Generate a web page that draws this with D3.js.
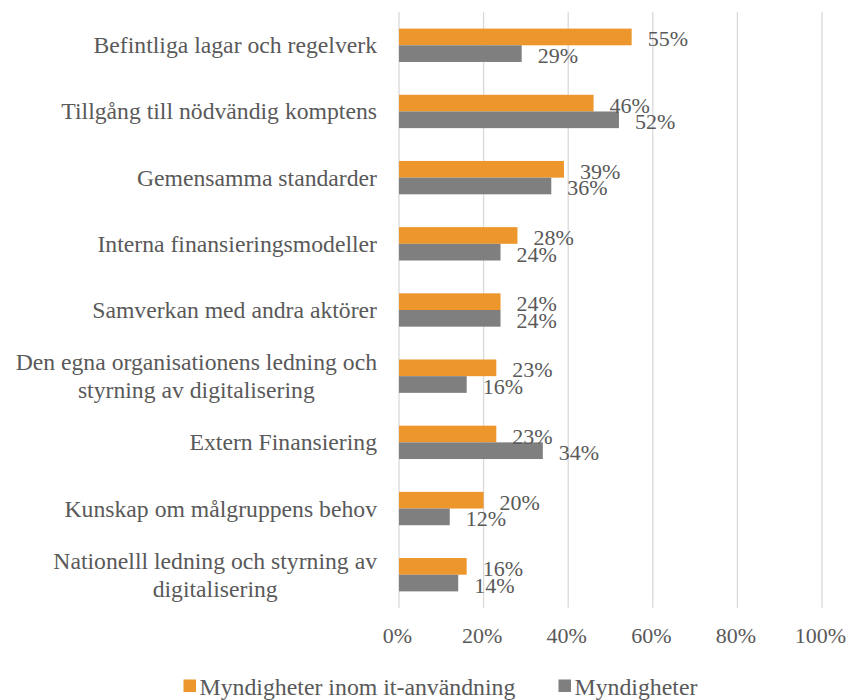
<!DOCTYPE html>
<html><head><meta charset="utf-8">
<script src="https://cdn.jsdelivr.net/npm/d3@7"></script>
<style>body{margin:0;background:#fff;} svg{display:block;}</style>
</head><body>
<svg id="chart" width="849" height="700"></svg>
<script>
const categories = [
  ["Befintliga lagar och regelverk"],
  ["Tillgång till nödvändig komptens"],
  ["Gemensamma standarder"],
  ["Interna finansieringsmodeller"],
  ["Samverkan med andra aktörer"],
  ["Den egna organisationens ledning och", "styrning av digitalisering"],
  ["Extern Finansiering"],
  ["Kunskap om målgruppens behov"],
  ["Nationelll ledning och styrning av", "digitalisering"]
];
const seriesNames = ["Myndigheter inom it-användning", "Myndigheter"];
const itAnvandning = [55, 46, 39, 28, 24, 23, 23, 20, 16];
const myndigheter = [29, 52, 36, 24, 24, 16, 34, 12, 14];
const xTicks = [0, 20, 40, 60, 80, 100];
const colors = ["#ED962C", "#7F7F7F"];

(function () {
const font = "Liberation Serif, Times New Roman, serif";
const textColor = "#595959";
const svg = d3.select("#chart");
const pLeft = 399, pRight = 822, pTop = 12.2, pBottom = 607.8;
const catIdx = categories.map((d, i) => i);
const x = d3.scaleLinear().domain([0, 100]).range([pLeft, pRight]);
const y0 = d3.scaleBand().domain(catIdx).range([pTop, pBottom]).padding(0);
const y1 = d3.scaleBand().domain([0, 1]).range([y0.bandwidth() * 0.248, y0.bandwidth() * 0.752]);

// gridlines
svg.append("g").selectAll("line").data(xTicks).join("line")
  .attr("x1", d => x(d)).attr("x2", d => x(d))
  .attr("y1", pTop).attr("y2", pBottom)
  .attr("stroke", "#D9D9D9").attr("stroke-width", 1.3);

// x tick labels
const xAxis = d3.axisBottom(x).tickValues(xTicks).tickFormat(d => d + "%").tickSize(0).tickPadding(0);
const gx = svg.append("g").attr("transform", `translate(-2,${pBottom})`).call(xAxis);
gx.select(".domain").remove();
gx.selectAll("text").attr("font-family", font).attr("font-size", 22).attr("fill", textColor)
  .attr("dy", null).attr("y", 35.5);

// bars
const data = catIdx.map(i => [itAnvandning[i], myndigheter[i]]);
const groups = svg.append("g").selectAll("g").data(data).join("g")
  .attr("transform", (d, i) => `translate(0,${y0(i)})`);
groups.selectAll("rect").data(d => d.map((v, s) => ({v, s}))).join("rect")
  .attr("x", x(0)).attr("y", d => y1(d.s))
  .attr("width", d => x(d.v) - x(0)).attr("height", y1.bandwidth())
  .attr("fill", d => colors[d.s]);
groups.selectAll("text").data(d => d.map((v, s) => ({v, s}))).join("text")
  .attr("x", d => x(d.v) + 16).attr("y", d => y1(d.s) + y1.bandwidth() / 2 + 9.5)
  .attr("font-family", font).attr("font-size", 22).attr("fill", textColor)
  .text(d => d.v + "%");

// category labels
const catG = svg.append("g");
categories.forEach((lines, i) => {
  const cy = y0(i) + y0.bandwidth() / 2;
  const lh = 28;
  const t = catG.append("text").attr("font-family", font).attr("font-size", 23.7).attr("fill", textColor);
  const n = lines.length;
  lines.forEach((ln, k) => {
    t.append("tspan").attr("y", cy + (k - (n - 1) / 2) * lh + 8).text(ln);
  });
  const widths = [];
  t.selectAll("tspan").each(function() { widths.push(this.getComputedTextLength()); });
  const maxW = d3.max(widths);
  const rightEdge = 377;
  t.selectAll("tspan").attr("text-anchor", "middle").attr("x", rightEdge - maxW / 2);
});

// legend
const legend = svg.append("g");
const legendItems = [{x: 183.5, s: 0}, {x: 558.5, s: 1}];
legendItems.forEach(it => {
  legend.append("rect").attr("x", it.x).attr("y", 679.5).attr("width", 12.5).attr("height", 12.5).attr("fill", colors[it.s]);
  legend.append("text").attr("x", it.x + 16).attr("y", 694.5)
    .attr("font-family", font).attr("font-size", 23.8).attr("fill", textColor)
    .text(seriesNames[it.s]);
});
})();
</script>
</body></html>
